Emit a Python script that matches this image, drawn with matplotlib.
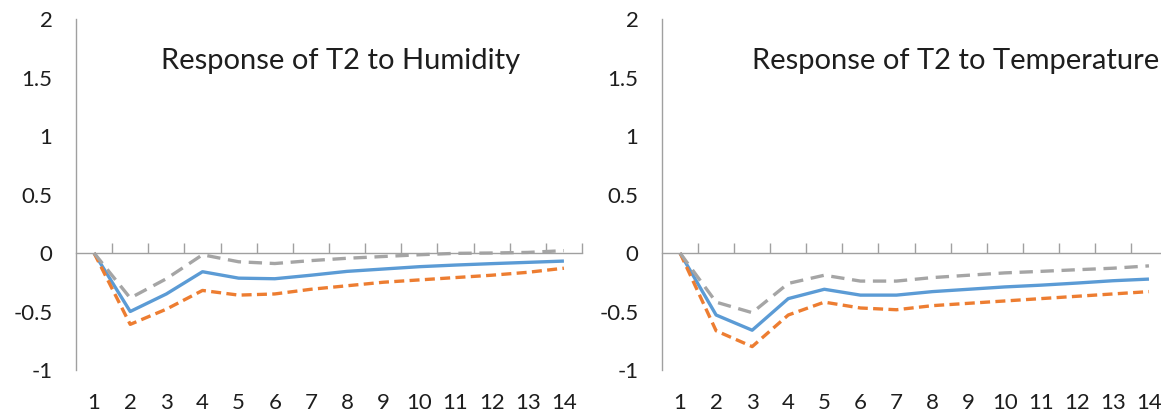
import matplotlib
matplotlib.use("Agg")
import matplotlib.pyplot as plt

# data (impulse responses, 14 periods)
periods = list(range(1, 15))

hum_mid = [0, -0.50, -0.35, -0.16, -0.215, -0.22, -0.19, -0.157, -0.137,
           -0.117, -0.103, -0.091, -0.08, -0.069]
hum_low = [0, -0.61, -0.48, -0.32, -0.36, -0.35, -0.31, -0.28, -0.25,
           -0.23, -0.21, -0.19, -0.165, -0.13]
hum_high = [0, -0.385, -0.22, -0.015, -0.075, -0.09, -0.065, -0.045, -0.03,
            -0.015, -0.003, 0.0, 0.005, 0.02]

temp_mid = [0, -0.53, -0.66, -0.39, -0.31, -0.36, -0.36, -0.33, -0.31,
            -0.29, -0.275, -0.257, -0.237, -0.223]
temp_low = [0, -0.665, -0.80, -0.53, -0.42, -0.47, -0.485, -0.45, -0.43,
            -0.41, -0.39, -0.37, -0.35, -0.33]
temp_high = [0, -0.42, -0.51, -0.26, -0.19, -0.24, -0.24, -0.21, -0.19,
             -0.17, -0.157, -0.143, -0.13, -0.11]

titles = ["Response of T2 to Humidity", "Response of T2 to Temperature"]
y_ticks = [-1, -0.5, 0, 0.5, 1, 1.5, 2]
y_labels = ["-1", "-0.5", "0", "0.5", "1", "1.5", "2"]

BLUE = "#5b9bd5"
ORANGE = "#ed7d31"
GREY = "#a5a5a5"
AXIS = "#a0a0a0"
TEXT = "#1e1e1e"

plt.rcParams["font.family"] = ["Lato", "DejaVu Sans"]

W, H = 1161, 419
fig = plt.figure(figsize=(W / 100, H / 100), dpi=100)

# axes boxes in pixels: (left, right) ; top/bottom shared
top_px, bot_px = 19, 370
boxes = [(76, 582), (662, 1167)]
title_pos = [(0.523, 0.88), (0.582, 0.88)]
series = [(hum_mid, hum_low, hum_high), (temp_mid, temp_low, temp_high)]

for (l, r), title, tp, (mid, low, high) in zip(boxes, titles, title_pos, series):
    ax = fig.add_axes([l / W, 1 - bot_px / H, (r - l) / W, (bot_px - top_px) / H])
    ax.set_xlim(0.5, 14.5)
    ax.set_ylim(-1, 2)

    ax.plot(periods, mid, color=BLUE, lw=2.4, solid_capstyle="butt")
    ax.plot(periods, low, color=ORANGE, lw=2.4, dashes=(3, 1.6))
    ax.plot(periods, high, color=GREY, lw=2.4, dashes=(4, 2.3))

    for s in ["top", "right"]:
        ax.spines[s].set_visible(False)
    ax.spines["left"].set_color(AXIS)
    ax.spines["left"].set_linewidth(1.0)
    # horizontal axis sits at zero, boundary ticks point up
    ax.spines["bottom"].set_position(("data", 0))
    ax.spines["bottom"].set_color(AXIS)
    ax.spines["bottom"].set_linewidth(1.0)
    ax.set_xticks([p + 0.5 for p in periods])
    ax.tick_params(axis="x", direction="in", length=7, width=1.0,
                   color=AXIS, labelbottom=False)

    ax.set_yticks(y_ticks, y_labels)
    ax.tick_params(axis="y", length=0, pad=17, labelsize=16, labelcolor=TEXT)

    # category labels along the bottom edge
    sec = ax.secondary_xaxis("bottom")
    sec.set_xticks(periods, [str(p) for p in periods])
    sec.spines["bottom"].set_visible(False)
    sec.tick_params(length=0, pad=16.5, labelsize=16, labelcolor=TEXT)

    ax.text(tp[0], tp[1], title, transform=ax.transAxes, ha="center",
            va="center", fontsize=21, color=TEXT)

fig.savefig("out.png", dpi=100)
